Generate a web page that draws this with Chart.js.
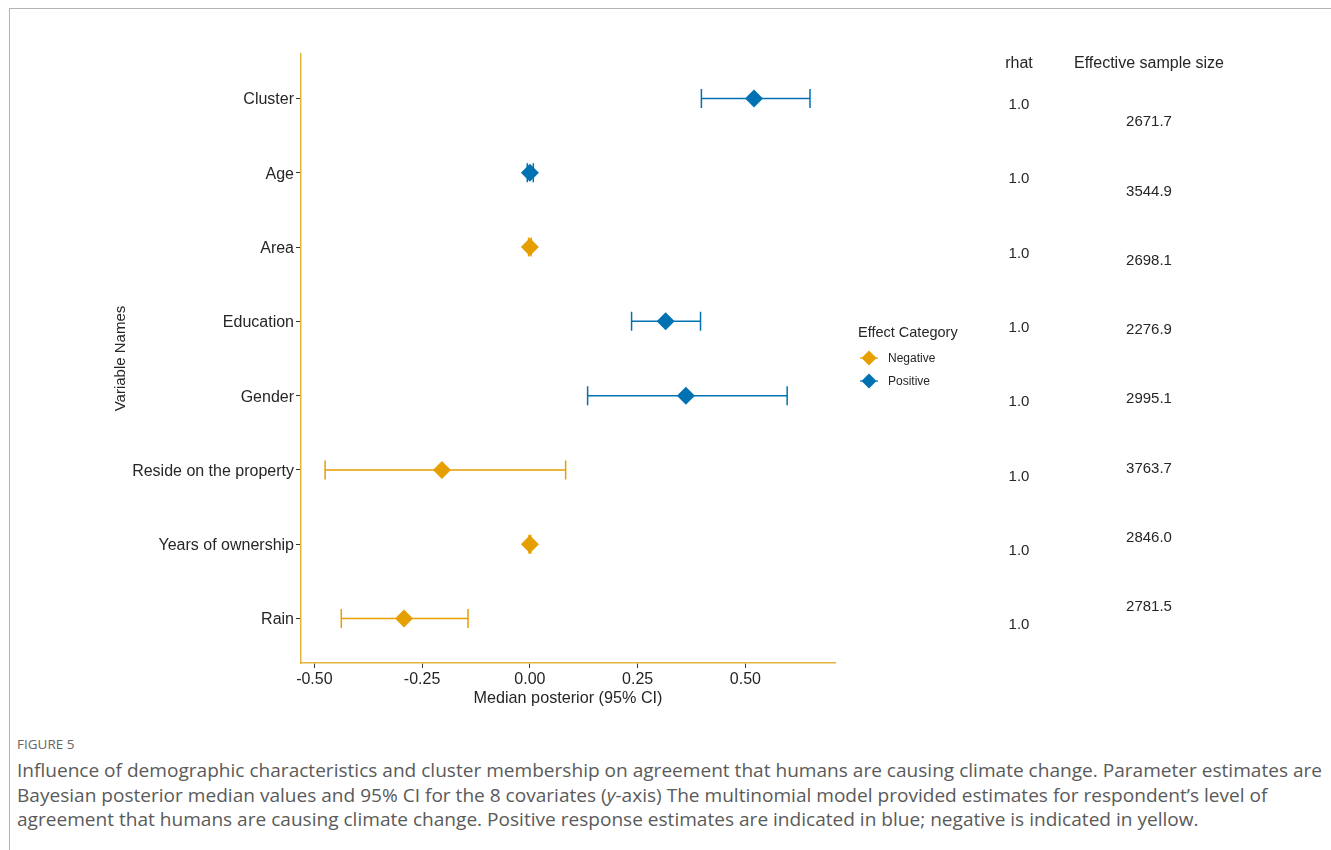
<!DOCTYPE html>
<html><head><meta charset="utf-8">
<script src="https://cdn.jsdelivr.net/npm/chart.js@4.4.1/dist/chart.umd.min.js"></script>
<style>
html,body{margin:0;padding:0;background:#fff;}
body{width:1331px;height:850px;position:relative;overflow:hidden;font-family:"Liberation Sans",Arial,sans-serif;}
#frame{position:absolute;left:9px;top:8px;width:1340px;height:860px;border-top:1.5px solid #b3b3b3;border-left:1.5px solid #b3b3b3;box-sizing:border-box;}
#wrap{position:absolute;left:0;top:0;width:1331px;height:720px;}
#figlabel{position:absolute;left:17px;top:735px;font-family:"Open Sans",sans-serif;font-size:13.5px;color:#666;}
#caption{position:absolute;left:17px;top:758px;font-family:"Open Sans",sans-serif;font-size:18.5px;line-height:24.5px;color:#5a5a5a;white-space:nowrap;transform-origin:0 0;}
#caption span{display:block;width:max-content;}
</style></head>
<body>
<div id="frame"></div>
<div id="wrap"><canvas id="c" width="1331" height="720"></canvas></div>
<div id="figlabel">FIGURE 5</div>
<div id="caption">
<span id="l1">Influence of demographic characteristics and cluster membership on agreement that humans are causing climate change. Parameter estimates are</span>
<span id="l2">Bayesian posterior median values and 95% CI for the 8 covariates (<i>y</i>-axis) The multinomial model provided estimates for respondent’s level of</span>
<span id="l3">agreement that humans are causing climate change. Positive response estimates are indicated in blue; negative is indicated in yellow.</span>
</div>
<script>
const categories = ["Cluster","Age","Area","Education","Gender","Reside on the property","Years of ownership","Rain"];
const medians = [0.52, 0.00, 0.00, 0.315, 0.362, -0.204, 0.00, -0.292];
const lower   = [0.398, -0.006, -0.003, 0.236, 0.134, -0.475, -0.002, -0.4375];
const upper   = [0.650, 0.008, 0.003, 0.396, 0.597, 0.083, 0.002, -0.1435];
const effect  = ["Positive","Positive","Negative","Positive","Positive","Negative","Negative","Negative"];
const rhat    = ["1.0","1.0","1.0","1.0","1.0","1.0","1.0","1.0"];
const ess     = ["2671.7","3544.9","2698.1","2276.9","2995.1","3763.7","2846.0","2781.5"];
const xTicks  = [-0.50, -0.25, 0.00, 0.25, 0.50];
const effectNames = ["Negative","Positive"];
const effectColors = {Negative:"#E69F00", Positive:"#0072B2"};

// fit caption width (condensed look)
(function(){
  const l1 = document.getElementById('l1');
  const cap = document.getElementById('caption');
  const w = l1.getBoundingClientRect().width;
  cap.style.transform = 'scaleX(' + (1305 / w).toFixed(4) + ')';
})();

const FONT = "'Liberation Sans', Arial, sans-serif";
const TEXT = '#262626';

const datasets = effectNames.map(name => ({
  label: name,
  data: categories.map((c,i) => effect[i]===name ? {x: medians[i], y: i+1} : null).filter(d => d),
  backgroundColor: effectColors[name],
  borderColor: effectColors[name],
  pointStyle: 'rectRot',
  pointRadius: 9,
  pointBorderWidth: 0,
  showLine: false
}));

const errorBars = {
  id: 'errorBars',
  beforeDatasetsDraw(chart) {
    const {ctx, scales:{x, y}} = chart;
    ctx.save();
    ctx.lineWidth = 1.5;
    categories.forEach((c,i) => {
      const py = y.getPixelForValue(i+1);
      const x0 = x.getPixelForValue(lower[i]);
      const x1 = x.getPixelForValue(upper[i]);
      ctx.strokeStyle = effectColors[effect[i]];
      ctx.beginPath();
      ctx.moveTo(x0, py); ctx.lineTo(x1, py);
      ctx.moveTo(x0, py-9.5); ctx.lineTo(x0, py+9.5);
      ctx.moveTo(x1, py-9.5); ctx.lineTo(x1, py+9.5);
      ctx.stroke();
    });
    ctx.restore();
  }
};

const sideTable = {
  id: 'sideTable',
  afterDraw(chart) {
    const {ctx, scales:{y}, chartArea} = chart;
    const rx = chartArea.right + 184, ex = chartArea.right + 314;
    ctx.save();
    ctx.fillStyle = TEXT;
    ctx.textAlign = 'center';
    ctx.textBaseline = 'middle';
    ctx.font = "16px " + FONT;
    ctx.fillText('rhat', rx, 63.5);
    ctx.fillText('Effective sample size', ex, 63.5);
    ctx.font = "15px " + FONT;
    rhat.forEach((r,i) => ctx.fillText(r, rx, y.getPixelForValue(i+1) + 6.5));
    const essTop = 1.31, essBottom = 7.84;
    ess.forEach((v,i) => ctx.fillText(v, ex, y.getPixelForValue(essTop + i*(essBottom-essTop)/(ess.length-1)) + 0.5));
    // legend
    ctx.textAlign = 'left';
    ctx.font = "14.5px " + FONT;
    ctx.fillText('Effect Category', 858, 333);
    ctx.font = "12px " + FONT;
    effectNames.forEach((name,k) => {
      const cy = 358 + k*23, cx = 869;
      ctx.strokeStyle = effectColors[name];
      ctx.fillStyle = effectColors[name];
      ctx.lineWidth = 1.2;
      ctx.beginPath(); ctx.moveTo(cx-9, cy); ctx.lineTo(cx+9, cy); ctx.stroke();
      ctx.beginPath();
      ctx.moveTo(cx, cy-7.5); ctx.lineTo(cx+7.5, cy); ctx.lineTo(cx, cy+7.5); ctx.lineTo(cx-7.5, cy); ctx.closePath();
      ctx.fill();
      ctx.fillStyle = TEXT;
      ctx.fillText(name, 888, cy + 1);
    });
    ctx.restore();
  }
};

new Chart(document.getElementById('c'), {
  type: 'scatter',
  data: { datasets },
  plugins: [errorBars, sideTable],
  options: {
    responsive: false,
    animation: false,
    events: [],
    layout: { padding: { left: 112, right: 496, top: 54, bottom: 14 } },
    plugins: { legend: { display: false }, tooltip: { enabled: false } },
    scales: {
      x: {
        type: 'linear',
        min: -0.531, max: 0.708,
        afterBuildTicks: s => { s.ticks = xTicks.map(v => ({value: v})); },
        afterFit: s => { s.height = 43; },
        grid: { drawOnChartArea: false, drawTicks: true, tickLength: 5, color: '#333', lineWidth: 1 },
        border: { display: true, color: '#E2B43C', width: 1.5 },
        ticks: { padding: 2, color: TEXT, font: { family: FONT, size: 16 }, callback: v => v.toFixed(2), maxRotation: 0, autoSkip: false },
        title: { display: true, text: 'Median posterior (95% CI)', color: TEXT, font: { family: FONT, size: 16.2 }, padding: { top: 0, bottom: -2 } }
      },
      y: {
        type: 'linear',
        reverse: true,
        min: 0.4, max: 8.6,
        afterBuildTicks: s => { s.ticks = categories.map((c,i) => ({value: i+1})); },
        afterFit: s => { s.width = 189; },
        grid: { drawOnChartArea: false, drawTicks: true, tickLength: 5, color: '#333', lineWidth: 1 },
        border: { display: true, color: '#E2B43C', width: 1.5 },
        ticks: { padding: 2, labelOffset: 1.5, color: TEXT, font: { family: FONT, size: 16 }, callback: v => categories[Math.round(v)-1] || '', autoSkip: false },
        title: { display: true, text: 'Variable Names', color: TEXT, font: { family: FONT, size: 15 }, padding: 0 }
      }
    }
  }
});
</script>
</body></html>
